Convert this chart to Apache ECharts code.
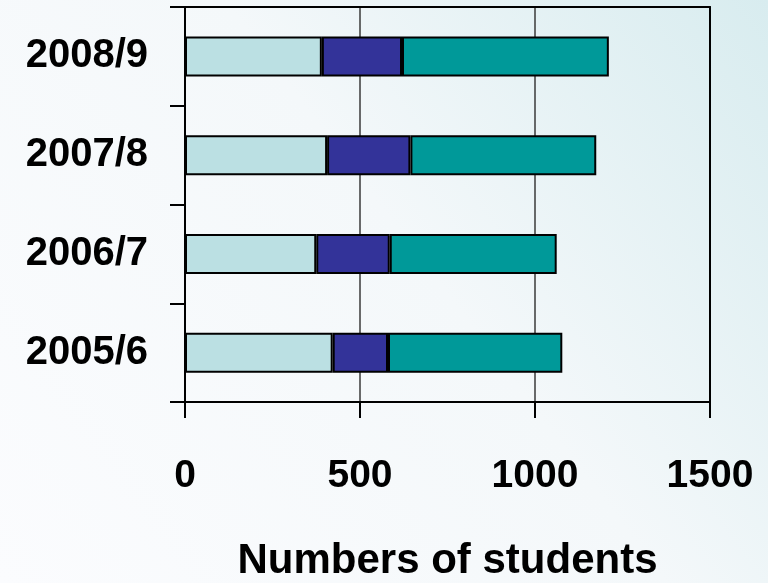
<!DOCTYPE html>
<html><head><meta charset="utf-8">
<script src="https://cdn.jsdelivr.net/npm/echarts@6/dist/echarts.min.js"></script>
<style>html,body{margin:0;padding:0;}#c{width:768px;height:583px;}</style>
</head><body><div id="c"></div>
<script>
const categories = ['2005/6', '2006/7', '2007/8', '2008/9'];
const seriesLight = [422, 375, 406, 391];
const seriesDark = [158, 210, 238, 229];
const seriesTeal = [498, 477, 531, 591];
const xTicks = [0, 500, 1000, 1500];

const font = 'Liberation Sans, Arial, sans-serif';
const chart = echarts.init(document.getElementById('c'));
const barStyle = (c) => ({ color: c, borderColor: '#000', borderWidth: 2 });
chart.setOption({
  animation: false,
  backgroundColor: {
    type: 'linear', x: 0, y: 1, x2: 1, y2: 0,
    colorStops: [
      { offset: 0, color: '#fbfcfe' },
      { offset: 0.55, color: '#f4f8fa' },
      { offset: 1, color: '#d8ecef' }
    ]
  },
  grid: { left: 185, right: 58, top: 7, bottom: 181, containLabel: false, outerBoundsMode: 'none' },
  xAxis: [{
    type: 'value', min: xTicks[0], max: xTicks[xTicks.length - 1], interval: 500,
    axisLine: { show: true, lineStyle: { color: '#000', width: 2 } },
    axisTick: { show: true, length: 16, lineStyle: { color: '#000', width: 2 } },
    splitLine: { show: true, showMinLine: false, showMaxLine: false, lineStyle: { color: '#3a3a3a', width: 1.5 } },
    axisLabel: { color: '#000', fontFamily: font, fontWeight: 'bold', fontSize: 39, margin: 55,
      formatter: (v) => String(v) },
    name: 'Numbers of students', nameLocation: 'middle', nameGap: 138,
    nameTextStyle: { color: '#000', fontFamily: font, fontWeight: 'bold', fontSize: 42 }
  }, {
    type: 'value', position: 'top', min: xTicks[0], max: xTicks[xTicks.length - 1], interval: 500,
    axisLine: { show: true, onZero: false, lineStyle: { color: '#000', width: 2 } },
    axisTick: { show: false }, axisLabel: { show: false }, splitLine: { show: false }
  }],
  yAxis: [{
    type: 'category', data: categories,
    axisLine: { show: true, lineStyle: { color: '#000', width: 2 } },
    axisTick: { show: true, length: 15, lineStyle: { color: '#000', width: 2 } },
    axisLabel: { color: '#000', fontFamily: font, fontWeight: 'bold', fontSize: 40, margin: 37 }
  }, {
    type: 'category', data: categories, position: 'right',
    axisLine: { show: true, onZero: false, lineStyle: { color: '#000', width: 2 } },
    axisTick: { show: false }, axisLabel: { show: false }, splitLine: { show: false }
  }],
  series: [
    { type: 'bar', stack: 's', data: seriesLight, barWidth: 40, itemStyle: barStyle('#bbe0e3') },
    { type: 'bar', stack: 's', data: seriesDark, barWidth: 40, itemStyle: barStyle('#333399') },
    { type: 'bar', stack: 's', data: seriesTeal, barWidth: 40, itemStyle: barStyle('#009999') }
  ]
});
</script></body></html>
